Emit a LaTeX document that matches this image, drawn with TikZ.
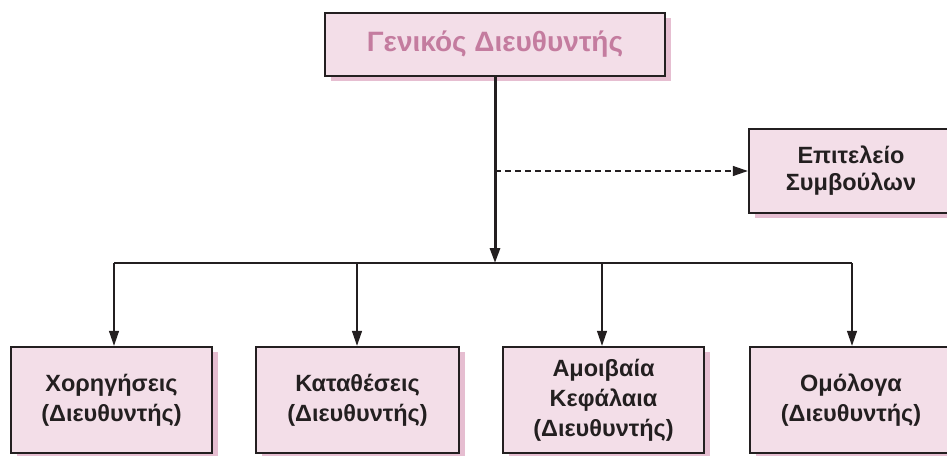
\documentclass[tikz,border=0pt]{standalone}
\usepackage{fontspec}
\setmainfont{Liberation Sans}
\usetikzlibrary{arrows.meta,shadows}
\definecolor{boxfill}{HTML}{F3DEE8}
\definecolor{boxshadow}{HTML}{E6BED1}
\definecolor{toptext}{HTML}{C47C9F}
\definecolor{linecol}{HTML}{231F20}
\tikzset{
  orgbox/.style={draw=linecol, line width=2.4pt, fill=boxfill, align=center,
    font=\bfseries\fontsize{23.5}{30}\selectfont, text=linecol, inner sep=0pt,
    drop shadow={shadow xshift=6pt, shadow yshift=-5pt, fill=boxshadow, opacity=1}},
  conn/.style={draw=linecol, line width=1.3pt},
  tip/.style={-{Triangle[length=15pt,width=10pt]}},
}
\begin{document}
\begin{tikzpicture}[x=1pt,y=-1pt]
\useasboundingbox (0,0) rectangle (947,455);
\clip (0,0) rectangle (947,455);
\node[orgbox, minimum width=340pt, minimum height=63pt, text=toptext,
  font=\bfseries\fontsize{28}{32}\selectfont] (gd) at (495,44.5) {Γενικός Διευθυντής};
\node[orgbox, minimum width=204pt, minimum height=84pt,
  font=\bfseries\fontsize{23.5}{27}\selectfont] (ep) at (851,171) {Επιτελείο\\Συμβούλων};
\node[orgbox, minimum width=201pt, minimum height=106pt] (b1) at (111.5,400) {Χορηγήσεις\\(Διευθυντής)};
\node[orgbox, minimum width=203pt, minimum height=106pt] (b2) at (357.5,400) {Καταθέσεις\\(Διευθυντής)};
\node[orgbox, minimum width=201pt, minimum height=106pt] (b3) at (603.5,400) {Αμοιβαία\\Κεφάλαια\\(Διευθυντής)};
\node[orgbox, minimum width=202pt, minimum height=106pt] (b4) at (851,400) {Ομόλογα\\(Διευθυντής)};
\coordinate (j) at (495,263);
\coordinate (d) at (495,171);
\coordinate (h1) at (114,263);
\coordinate (h2) at (357,263);
\coordinate (h3) at (602,263);
\coordinate (h4) at (852,263);
\draw[conn] (h1) -- (h4);
\draw[conn, dashed, dash pattern=on 6pt off 4pt, tip] (d) -- (ep.west);
\draw[conn, line width=3pt, tip] (gd.south) -- (j);
\draw[conn, tip] (h1) -- (h1 |- b1.north);
\draw[conn, tip] (h2) -- (h2 |- b2.north);
\draw[conn, tip] (h3) -- (h3 |- b3.north);
\draw[conn, tip] (h4) -- (h4 |- b4.north);
\end{tikzpicture}
\end{document}
